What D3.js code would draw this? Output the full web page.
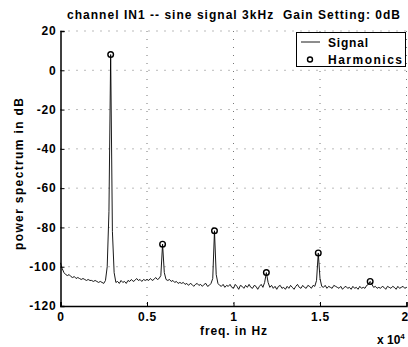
<!DOCTYPE html>
<html><head><meta charset="utf-8">
<script src="https://cdnjs.cloudflare.com/ajax/libs/d3/7.8.5/d3.min.js"></script>
<style>body{margin:0;background:#fff;}svg{display:block;}text{font-family:"Liberation Sans",Arial,sans-serif;font-weight:bold;fill:#000;white-space:pre;}</style>
</head><body>
<script>
// frequency grid step (Hz) for the spectrum samples
const freqStepHz = 100;
// power spectrum of the signal in dB, one value per 100 Hz from 0 to 20 kHz
const signalDb = [
 -98, -101, -103, -104, -104.5, -104, -105, -105.5, -105, -106,
 -105.5, -106, -106.5, -106, -106.5, -107, -106.5, -107, -107, -107.5,
 -107, -107.5, -108, -107.5, -108, -108.5, -107, -100, -72, 8,
 -82, -103, -108, -107.5, -108.5, -107, -108, -107.5, -108.5, -107,
 -107.5, -106.5, -107.5, -107, -106, -107, -106.5, -107.5, -106.5, -107,
 -106.5, -107, -106, -107, -106.5, -105.5, -106.5, -106, -104.5, -88.5,
 -103, -106.5, -107, -106.5, -107.5, -107, -108, -107.5, -108.5, -108,
 -108.5, -108, -109, -108.5, -109.5, -108.5, -109, -110, -109, -108.5,
 -109.5, -109, -110, -109, -108.5, -110, -109.5, -108.5, -106, -81.7,
 -104, -108.5, -109.5, -110, -109, -110.5, -109.5, -110, -109, -110.5,
 -111, -109, -110, -111.5, -109.5, -110, -111, -109.5, -110.5, -109,
 -110.5, -111, -109.5, -110, -111.5, -110, -109, -110.5, -108, -103,
 -108, -110.5, -109.5, -111, -110, -111.5, -110, -109.5, -111, -110.5,
 -111.5, -110, -111, -109.5, -110.5, -111.5, -110, -109, -110.5, -111,
 -109.5, -110.5, -111, -109.5, -110, -111, -109.5, -110, -107, -93,
 -106, -110, -110.5, -109.5, -111, -110, -110.5, -111, -109.5, -110,
 -110.5, -111, -110, -111.5, -110.5, -110, -111, -110.5, -111.5, -110,
 -111, -110.5, -111.5, -110, -111, -110.5, -111, -109.5, -109, -107.5,
 -109, -110.5, -110, -111, -110.5, -111, -110, -110.5, -111.5, -110,
 -110.5, -111, -110, -110.5, -111.5, -110, -111, -110.5, -110, -111, -110.5
];
// harmonics
const harmFreqHz = [2900, 5900, 8900, 11900, 14900, 17900];
const harmDb = [8, -88.5, -81.7, -103, -93, -107.5];
// ticks
const xTicks = [0, 5000, 10000, 15000, 20000];
const xTickLabels = ["0", "0.5", "1", "1.5", "2"];
const yTicks = [-120, -100, -80, -60, -40, -20, 0, 20];
const titleText = "channel IN1 -- sine signal 3kHz  Gain Setting: 0dB";
const xLabel = "freq. in Hz";
const yLabel = "power spectrum in dB";
const legendLabels = ["Signal", "Harmonics"];

const W = 408, H = 347;
const m = {left: 60.5, right: 406.5, top: 31, bottom: 306};
const FONT = '"Liberation Sans",Arial,sans-serif';
const svg = d3.select("body").append("svg").attr("width", W).attr("height", H);
const x = d3.scaleLinear().domain([0, 20000]).range([m.left, m.right]);
const y = d3.scaleLinear().domain([-120, 20]).range([m.bottom, m.top]);

// grid
const grid = svg.append("g").attr("stroke", "#777").attr("stroke-width", 1).attr("stroke-dasharray", "1,7");
grid.selectAll(".gy").data(yTicks.filter(v => v > -120)).join("line")
  .attr("x1", m.left).attr("x2", m.right).attr("y1", d => y(d)).attr("y2", d => y(d));
grid.selectAll(".gx").data(xTicks.filter(v => v > 0)).join("line")
  .attr("y1", m.top).attr("y2", m.bottom).attr("x1", d => x(d)).attr("x2", d => x(d));

// signal
const pts = signalDb.map((v, i) => [i * freqStepHz, v]);
svg.append("path").datum(pts)
  .attr("fill", "none").attr("stroke", "#000").attr("stroke-width", 0.9)
  .attr("d", d3.line().x(d => x(d[0])).y(d => y(d[1])));

// harmonics
svg.selectAll(".h").data(harmFreqHz).join("circle")
  .attr("cx", d => x(d)).attr("cy", (d, i) => y(harmDb[i])).attr("r", 2.8)
  .attr("fill", "none").attr("stroke", "#000").attr("stroke-width", 1.4);

// axes
const yAxis = d3.axisLeft(y).tickValues(yTicks).tickSize(-4).tickPadding(4).tickFormat(d3.format("d"));
const gy = svg.append("g").attr("transform", `translate(${m.left},0)`).call(yAxis);
const xAxis = d3.axisBottom(x).tickValues(xTicks).tickSize(-4).tickPadding(6).tickFormat((d, i) => xTickLabels[i]);
const gx = svg.append("g").attr("transform", `translate(0,${m.bottom})`).call(xAxis);
[gx, gy].forEach(g => {
  g.select(".domain").attr("stroke", "#000").attr("stroke-width", 1.5);
  g.selectAll(".tick line").attr("stroke", "#000").attr("stroke-width", 1);
  g.selectAll("text").style("font-family", FONT).style("font-weight", "bold")
    .attr("font-size", 12).attr("letter-spacing", 0.8).attr("fill", "#000");
});
gy.selectAll("text").text(d => String(d).replace("−", "-"));
// last x label sits at the window edge: keep it inside
gx.selectAll("text").filter(d => d === 20000).attr("text-anchor", "end").attr("dx", 2);

// title and labels
svg.append("text").attr("x", 67).attr("y", 18.5)
  .attr("font-size", 12).attr("textLength", 333).attr("lengthAdjust", "spacing").text(titleText);
svg.append("text").attr("x", 200).attr("y", 335)
  .attr("font-size", 12).attr("textLength", 67).attr("lengthAdjust", "spacing").text(xLabel);
svg.append("text").attr("transform", `translate(23,250) rotate(-90)`)
  .attr("font-size", 12).attr("textLength", 152).attr("lengthAdjust", "spacing").text(yLabel);
const ex = svg.append("text").attr("x", 377).attr("y", 344).attr("font-size", 12);
ex.append("tspan").text("x 10");
ex.append("tspan").attr("dy", -5).attr("font-size", 8).text("4");

// legend
const lg = svg.append("g");
lg.append("rect").attr("x", 296.5).attr("y", 32.5).attr("width", 109).attr("height", 34)
  .attr("fill", "#fff").attr("stroke", "#000").attr("stroke-width", 1);
lg.append("line").attr("x1", 301).attr("x2", 320).attr("y1", 42).attr("y2", 42).attr("stroke", "#000").attr("stroke-width", 0.9);
lg.append("circle").attr("cx", 310).attr("cy", 59.5).attr("r", 2.5).attr("fill", "none").attr("stroke", "#000").attr("stroke-width", 1.4);
lg.selectAll(".lt").data(legendLabels).join("text").attr("x", 328).attr("y", (d, i) => 46.5 + i * 17)
  .attr("font-size", 12).attr("textLength", (d, i) => [40, 74][i]).attr("lengthAdjust", "spacing").text(d => d);
</script>
</body></html>
